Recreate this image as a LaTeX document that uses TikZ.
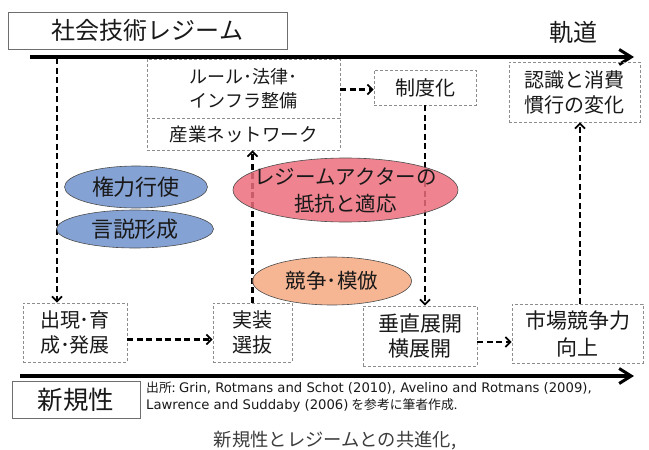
\documentclass[tikz,border=0pt]{standalone}
\usepackage{fontspec}
\setmainfont{Noto Sans CJK JP}
\newfontfamily\latfont{DejaVu Sans}
\usetikzlibrary{arrows.meta,shapes.geometric}
\definecolor{ellblue}{RGB}{112,146,205}
\definecolor{ellred}{RGB}{236,110,124}
\definecolor{ellorange}{RGB}{244,168,128}
\definecolor{boxgray}{RGB}{140,140,140}
\definecolor{framegray}{RGB}{110,110,110}
\definecolor{txt}{RGB}{25,25,25}
\definecolor{captxt}{RGB}{60,60,60}
\begin{document}
\begin{tikzpicture}[x=1pt,y=-1pt,
  dbox/.style={draw=boxgray, densely dashed, line width=0.6pt, inner sep=0pt, align=center, text=txt, font=\fontsize{20}{25}\selectfont},
  fbox/.style={draw=framegray, line width=0.8pt, inner sep=0pt, align=center, text=txt},
  link/.style={line width=2.2pt, dash pattern=on 6pt off 3.5pt, -{Straight Barb[length=5pt,width=10pt,line width=1.8pt]}},
  axis/.style={line width=3.5pt, -{Straight Barb[length=12pt,width=15pt,line width=3pt]}},
  ell/.style={ellipse, line width=0.6pt, inner sep=0pt, fill opacity=0.85},
  etext/.style={inner sep=0pt, align=center, text=txt, font=\fontsize{20.5}{27}\selectfont}
]
\useasboundingbox (0,0) rectangle (649,450);

% axes
\coordinate (topS) at (30,57);
\coordinate (topE) at (634,57);
\coordinate (botS) at (20,376);
\coordinate (botE) at (634,376);
\draw[axis] (topS) -- (topE);
\draw[axis] (botS) -- (botE);

% labels on axes
\node[fbox, minimum width=279pt, minimum height=37pt, font=\fontsize{24}{27}\selectfont] (regimeTitle) at (147.5,30.5) {社会技術レジーム};
\node[inner sep=0pt, text=txt, font=\fontsize{24}{27}\selectfont] (kido) at (573,32) {軌道};
\node[fbox, minimum width=128pt, minimum height=37pt, font=\fontsize{25.5}{29}\selectfont] (shinki) at (76,399.5) {新規性};

% boxes
\node[dbox, minimum width=193pt, minimum height=59pt, font=\fontsize{18}{24}\selectfont] (rule) at (243.5,88.5) {ルール･法律･\\インフラ整備};
\node[dbox, minimum width=193pt, minimum height=32pt, font=\fontsize{18.5}{24}\selectfont] (net) at (243.5,134) {産業ネットワーク};
\node[dbox, minimum width=102pt, minimum height=35pt] (seido) at (425,87.5) {制度化};
\node[dbox, minimum width=131pt, minimum height=60pt] (ninshiki) at (574.5,92) {認識と消費\\慣行の変化};
\node[dbox, minimum width=104pt, minimum height=59pt] (shutsugen) at (75,332.5) {出現･育\\成･発展};
\node[dbox, minimum width=79pt, minimum height=59pt] (jisso) at (252.5,332.5) {実装\\選抜};
\node[dbox, minimum width=114pt, minimum height=60pt, font=\fontsize{21}{25}\selectfont] (suichoku) at (420,336) {垂直展開\\横展開};
\node[dbox, minimum width=131pt, minimum height=59pt, font=\fontsize{21}{27}\selectfont] (shijo) at (577.5,333.5) {市場競争力\\向上};

% connectors
\coordinate (leftTop) at (57,58);
\draw[link] (leftTop) -- (leftTop |- shutsugen.north);
\draw[link] ([yshift=-7pt]shutsugen.east) -- ([yshift=-7pt]shutsugen.east -| jisso.west);
\draw[link] (jisso.north) -- (jisso.north |- net.south);
\draw[link] ([yshift=-2pt]seido.west -| rule.east) -- ([yshift=-2pt]seido.west);
\draw[link] (seido.south) -- (seido.south |- suichoku.north);
\draw[link] ([yshift=-6pt]suichoku.east) -- ([yshift=-6pt]suichoku.east -| shijo.west);
\draw[link] ([xshift=2.5pt]shijo.north) -- ([xshift=2.5pt]shijo.north |- ninshiki.south);

% ellipses
\node[ell, draw=black!70, fill=ellblue, minimum width=143pt, minimum height=42pt] (kenryoku) at (136,187) {};
\node[etext, font=\fontsize{22}{25}\selectfont] (kenryokuT) at (kenryoku) {権力行使};
\node[ell, draw=black!70, fill=ellblue, minimum width=157pt, minimum height=38pt] (gensetsu) at (135,229) {};
\node[etext, font=\fontsize{22}{25}\selectfont] (gensetsuT) at (gensetsu) {言説形成};
\node[ell, draw=black!70, fill=ellred, minimum width=225pt, minimum height=64pt] (regime) at (345.5,190) {};
\node[etext] (regimeT) at (regime) {レジームアクターの\\抵抗と適応};
\node[ell, draw=black!70, fill=ellorange, minimum width=159pt, minimum height=48pt] (kyoso) at (332,281) {};
\node[etext] (kyosoT) at (kyoso) {競争･模倣};

% citation
\node[anchor=north west, inner sep=0pt, align=left, text=txt, font=\fontsize{12.8}{17.5}\selectfont] (cite) at (146,381.5)
  {出所: {\latfont\fontsize{13.2}{17.5}\selectfont Grin, Rotmans and Schot (2010), Avelino and Rotmans (2009),}\\
   {\latfont\fontsize{13.2}{17.5}\selectfont Lawrence and Suddaby (2006)} を参考に筆者作成.};

% caption
\node[inner sep=0pt, text=captxt, font=\fontsize{18.3}{22}\selectfont] (caption) at (335,441) {新規性とレジームとの共進化,};
\end{tikzpicture}
\end{document}
